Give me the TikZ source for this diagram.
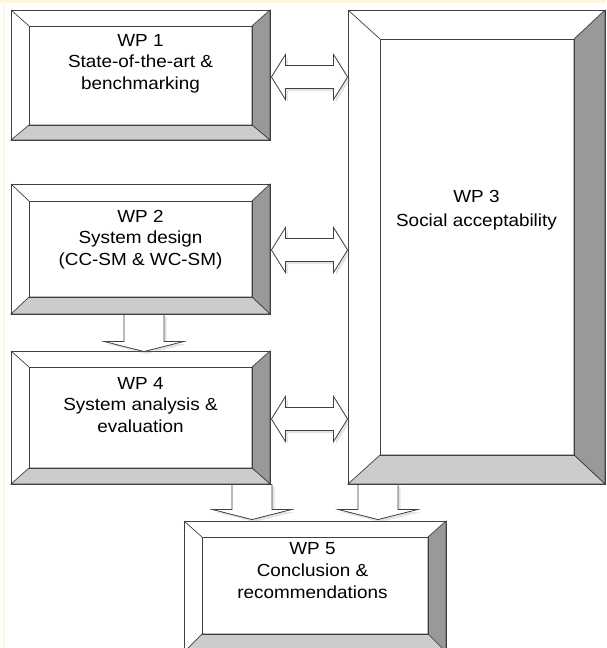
\documentclass[tikz,border=0pt]{standalone}
\usepackage{fontspec}
\setmainfont[FakeStretch=1.08]{Liberation Sans}
\usetikzlibrary{shadows,calc,fit}
\definecolor{edge}{HTML}{404040}
\definecolor{rbev}{HTML}{999999}
\definecolor{bbev}{HTML}{CCCCCC}
\definecolor{cream}{HTML}{FFF6DF}
\tikzset{
  outline/.style={draw=edge, line width=0.9pt},
  bevline/.style={draw=edge, line width=0.7pt},
  boxtext/.style={font=\fontsize{17.5}{21.5}\selectfont, align=center, anchor=north, inner sep=0pt},
  arrowshape/.style={draw=edge, fill=white, line width=0.8pt, line join=miter,
    drop shadow={opacity=0.22, shadow xshift=2.5pt, shadow yshift=-2.5pt}},
}
% name, outer x1 y1 x2 y2, inner x1 y1 x2 y2 (pixel coordinates, y downwards)
\newcommand\bevbox[9]{%
  \fill[white] (#2,#3) rectangle (#4,#5);
  \filldraw[bevline, fill=rbev] (#4,#3) -- (#8,#7) -- (#8,#9) -- (#4,#5) -- cycle;
  \filldraw[bevline, fill=bbev] (#2,#5) -- (#6,#9) -- (#8,#9) -- (#4,#5) -- cycle;
  \draw[bevline] (#2,#3) -- (#6,#7);
  \draw[bevline] (#6,#7) rectangle (#8,#9);
  \coordinate (#1-nw) at (#2,#3);
  \coordinate (#1-se) at (#4,#5);
  \node[outline, rectangle, inner sep=0pt, fit=(#1-nw)(#1-se)] (#1) {};
}
% double arrow between two tip coordinates
\newcommand\dblarrow[2]{%
  \draw[arrowshape] let \p1=(#1), \p2=(#2) in
    (\x1,\y1) -- (\x1+14pt,\y1+22.5pt) -- (\x1+14pt,\y1+11.5pt) -- (\x2-14pt,\y2+11.5pt)
    -- (\x2-14pt,\y2+22.5pt) -- (\x2,\y2) -- (\x2-14pt,\y2-22.5pt) -- (\x2-14pt,\y2-11.5pt)
    -- (\x1+14pt,\y1-11.5pt) -- (\x1+14pt,\y1-22.5pt) -- cycle;
}
% block arrow downwards: shaft top coordinate, tip coordinate
\newcommand\downarr[2]{%
  \draw[arrowshape] let \p1=(#1), \p2=(#2) in
    (\x2-20pt,\y1) -- (\x2-20pt,\y2+10pt) -- (\x2-39.5pt,\y2+10pt) -- (\x2,\y2)
    -- (\x2+39.5pt,\y2+10pt) -- (\x2+20pt,\y2+10pt) -- (\x2+20pt,\y1) -- cycle;
}
\begin{document}
\begin{tikzpicture}[x=1pt, y=-1pt]
  \useasboundingbox (0,0) rectangle (606,648);
  \fill[white] (0,0) rectangle (606,648);
  \fill[cream] (0,0) rectangle (606,3);
  \fill[cream] (2.5,0) rectangle (5,648);

  \bevbox{wp1}{11}{10}{270}{140}{29}{26}{252}{125}
  \bevbox{wp2}{11}{184}{270}{314}{29}{201}{252}{297}
  \bevbox{wp4}{11}{351}{270}{484}{29}{367}{252}{468}
  \bevbox{wp3}{348}{10}{605}{484}{380}{39}{574}{455}
  \bevbox{wp5}{184}{521}{446}{652}{202}{537}{428}{634}

  \node[boxtext] (wp1t) at ($(wp1.north)+(0,24.5)$) {WP 1\\State-of-the-art \&\\benchmarking};
  \node[boxtext] (wp2t) at ($(wp2.north)+(0,26.5)$) {WP 2\\System design\\(CC-SM \& WC-SM)};
  \node[boxtext] (wp4t) at ($(wp4.north)+(0,26.5)$) {WP 4\\System analysis \&\\evaluation};
  \node[boxtext] (wp3t) at ($(wp3.north)+(0,180.5)$) {WP 3\\[3pt]Social acceptability};
  \node[boxtext] (wp5t) at ($(wp5.north)+(-2.5,21.5)$) {WP 5\\[1pt]Conclusion \&\\recommendations};

  \coordinate (a1l) at ($(wp1.east)+(1,2)$);
  \coordinate (a1r) at ($(wp3.west|-wp1.east)+(0,2)$);
  \coordinate (a2l) at ($(wp2.east)+(1,1)$);
  \coordinate (a2r) at ($(wp3.west|-wp2.east)+(0,1)$);
  \coordinate (a4l) at ($(wp4.east)+(1,1.5)$);
  \coordinate (a4r) at ($(wp3.west|-wp4.east)+(0,1.5)$);
  \dblarrow{a1l}{a1r}
  \dblarrow{a2l}{a2r}
  \dblarrow{a4l}{a4r}

  \coordinate (d1t) at ($(wp2.south)+(3.5,0)$);
  \coordinate (d1b) at ($(wp4.north)+(3.5,1)$);
  \coordinate (d2t) at ($(wp4.south)+(111.5,0)$);
  \coordinate (d2b) at ($(d2t|-wp5.north)+(0,-1)$);
  \coordinate (d3t) at ($(wp3.south)+(-98.5,0)$);
  \coordinate (d3b) at ($(d3t|-wp5.north)+(0,-1)$);
  \downarr{d1t}{d1b}
  \downarr{d2t}{d2b}
  \downarr{d3t}{d3b}
\end{tikzpicture}
\end{document}
